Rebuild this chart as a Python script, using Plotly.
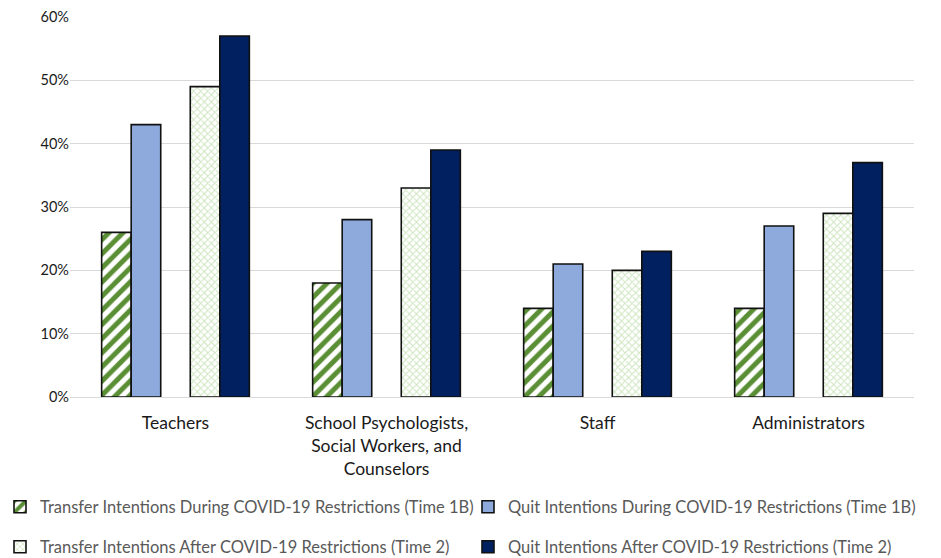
import plotly.graph_objects as go

categories = [
    "Teachers",
    "School Psychologists,<br>Social Workers, and<br>Counselors",
    "Staff",
    "Administrators",
]
transfer_1b = [26, 18, 14, 14]
quit_1b = [43, 28, 21, 27]
transfer_2 = [49, 33, 20, 29]
quit_2 = [57, 39, 23, 37]

names = [
    "Transfer Intentions During COVID-19 Restrictions (Time 1B)",
    "Quit Intentions During COVID-19 Restrictions (Time 1B)",
    "Transfer Intentions After COVID-19 Restrictions (Time 2)",
    "Quit Intentions After COVID-19 Restrictions (Time 2)",
]

outline = dict(color="#111111", width=1.6)
fig = go.Figure()

fig.add_bar(
    x=categories, y=transfer_1b, name=names[0], legend="legend",
    marker=dict(color="white", line=outline,
                pattern=dict(shape="/", fgcolor="#5B8F35", bgcolor="white",
                             fgopacity=1, size=10, solidity=0.5,
                             fillmode="overlay")),
)
fig.add_bar(
    x=categories, y=quit_1b, name=names[1], legend="legend2",
    marker=dict(color="#8EA9DB", line=outline),
)
# empty spacer series between the two time points
fig.add_bar(
    x=categories, y=[None] * len(categories), showlegend=False,
    hoverinfo="skip", marker=dict(color="rgba(0,0,0,0)"),
)
fig.add_bar(
    x=categories, y=transfer_2, name=names[2], legend="legend3",
    marker=dict(color="white", line=outline,
                pattern=dict(shape="x", fgcolor="#CDE5BE", bgcolor="white",
                             fgopacity=1, size=5, solidity=0.35,
                             fillmode="overlay")),
)
fig.add_bar(
    x=categories, y=quit_2, name=names[3], legend="legend4",
    marker=dict(color="#002060", line=outline),
)

W, H = 941, 558


def legend_at(px, py):
    # one legend entry placed at a pixel position in the page
    return dict(
        orientation="h", xref="container", yref="container",
        xanchor="left", yanchor="middle", x=px / W, y=1 - py / H,
        font=dict(family="Lato, sans-serif", size=16.5, color="#595959"),
        itemwidth=30, bgcolor="rgba(0,0,0,0)", borderwidth=0,
    )


fig.update_layout(
    width=W, height=H,
    margin=dict(l=70, r=27, t=17, b=161),
    paper_bgcolor="white", plot_bgcolor="white",
    barmode="group", bargap=0.3, bargroupgap=0,
    font=dict(family="Lato, sans-serif", color="#404040"),
    legend=legend_at(-9, 507),
    legend2=legend_at(468, 507),
    legend3=legend_at(-9, 547),
    legend4=legend_at(468, 547),
    xaxis=dict(
        automargin=False,
        showline=True, linecolor="#D9D9D9", linewidth=1,
        ticks="", ticklabelstandoff=10,
        tickfont=dict(size=17.5, color="#1a1a1a"),
    ),
    yaxis=dict(
        automargin=False,
        range=[0, 60], dtick=10, ticksuffix="%",
        showgrid=True, gridcolor="#D9D9D9", gridwidth=1,
        zeroline=False, showline=False,
        tickfont=dict(size=14.5, color="#1a1a1a"),
    ),
)

fig.write_html("out.html")
